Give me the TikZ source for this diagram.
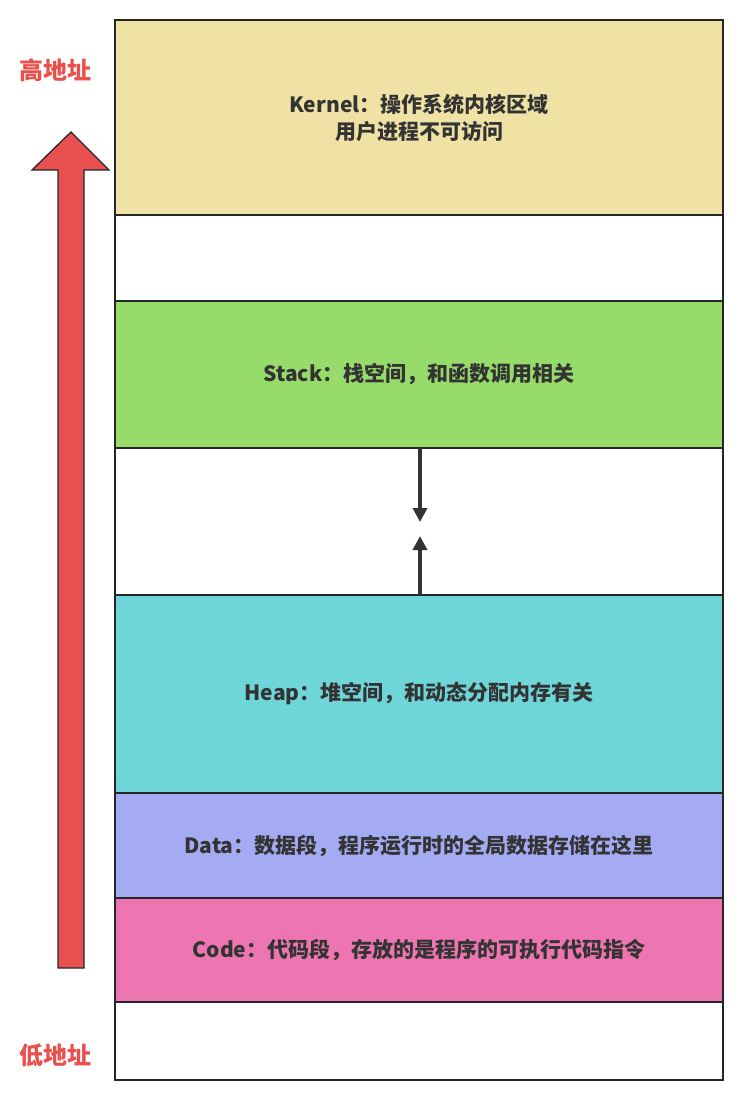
\documentclass[tikz,border=0pt]{standalone}
\usepackage{fontspec}
\usetikzlibrary{arrows.meta}
\setmainfont{Noto Sans CJK SC}
\begin{document}
\begin{tikzpicture}[x=1pt,y=-1pt,
  seg/.style={draw=black!85,line width=1.3pt},
  lbl/.style={font=\fontsize{21}{27}\selectfont\bfseries,text=black!80,align=center},
  growarrow/.style={draw=black!80,line width=3.5pt,-{Triangle[length=14pt,width=14pt]}}]
\useasboundingbox (0,0) rectangle (749,1097);
\definecolor{kern}{HTML}{F0E2A4}
\definecolor{stk}{HTML}{97DB6A}
\definecolor{hp}{HTML}{6ED6D8}
\definecolor{dat}{HTML}{A4ABF2}
\definecolor{cod}{HTML}{EC75B2}
\definecolor{redA}{HTML}{E85050}
\definecolor{redT}{HTML}{E8504E}
\draw[seg,fill=kern] (115,20) rectangle (723,215) node[midway,lbl] (kernel) {Kernel：操作系统内核区域\\用户进程不可访问};
\draw[seg,fill=white] (115,215) rectangle (723,301) node[midway] (gap1) {};
\draw[seg,fill=stk] (115,301) rectangle (723,448) node[midway,lbl] (stack) {Stack：栈空间，和函数调用相关};
\draw[seg,fill=white] (115,448) rectangle (723,595) node[midway] (gap2) {};
\draw[seg,fill=hp] (115,595) rectangle (723,793) node[midway,lbl] (heap) {Heap：堆空间，和动态分配内存有关};
\draw[seg,fill=dat] (115,793) rectangle (723,898) node[midway,lbl] (data) {Data：数据段，程序运行时的全局数据存储在这里};
\draw[seg,fill=cod] (115,898) rectangle (723,1002) node[midway,lbl] (code) {Code：代码段，存放的是程序的可执行代码指令};
\draw[seg,fill=white] (115,1002) rectangle (723,1080) node[midway] (gap3) {};
\coordinate (sb) at (420,448); \coordinate (se) at (420,522);
\coordinate (hb) at (420,595); \coordinate (he) at (420,536);
\draw[growarrow] (sb) -- (se);
\draw[growarrow] (hb) -- (he);
\draw[draw=black!85,line width=1.3pt,fill=redA,line join=miter]
  (58,968) -- (84,968) -- (84,170) -- (109,170) -- (71,132) -- (32,170) -- (58,170) -- cycle;
\node[font=\fontsize{24}{28}\selectfont\bfseries,text=redT] (hi) at (55,70) {高地址};
\node[font=\fontsize{24}{28}\selectfont\bfseries,text=redT] (lo) at (55,1055) {低地址};
\end{tikzpicture}
\end{document}
